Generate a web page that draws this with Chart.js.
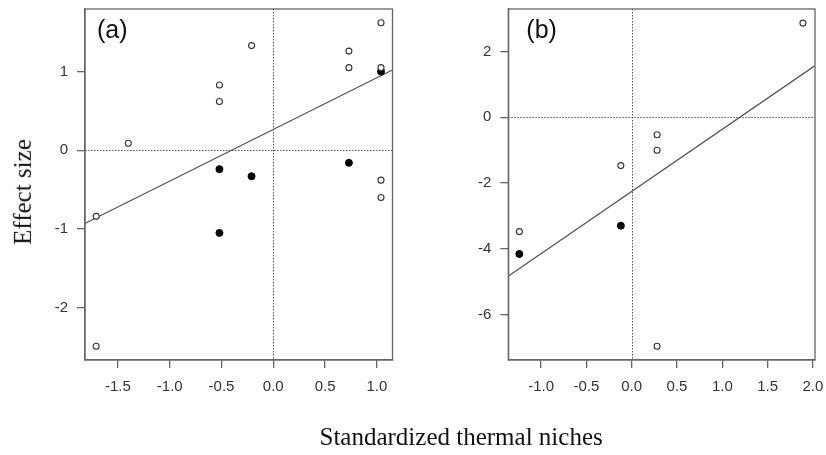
<!DOCTYPE html>
<html>
<head>
<meta charset="utf-8">
<script src="https://cdn.jsdelivr.net/npm/chart.js@4.4.0/dist/chart.umd.min.js"></script>
<style>
    body { margin: 0; background: #ffffff; }
    #wrap { position: relative; width: 826px; height: 455px; overflow: hidden; }
    canvas { position: absolute; top: 0; }
    .axisTitle { position: absolute; font-family: "Liberation Serif", "DejaVu Serif", serif; font-size: 25px; color: #111; white-space: nowrap; }
</style>
</head>
<body>
<div id="wrap">
    <canvas id="chartA" width="400" height="455" style="left:0px"></canvas>
    <canvas id="chartB" width="406" height="455" style="left:420px"></canvas>
    <div class="axisTitle" id="yTitle">Effect size</div>
    <div class="axisTitle" id="xTitle">Standardized thermal niches</div>
</div>
<script>
/*
    Panel (a) values
*/
const aOpenX = [-1.40, -0.52, -0.52, -0.21, 0.73, 0.73, 1.04, 1.04, 1.04, 1.04, -1.71, -1.71];
const aOpenY = [0.09, 0.83, 0.62, 1.33, 1.26, 1.05, 1.62, 1.05, -0.38, -0.60, -0.84, -2.49];
const aFillX = [1.04, -0.52, -0.21, 0.73, -0.52];
const aFillY = [1.00, -0.24, -0.33, -0.16, -1.05];
const aFitX = [-1.82, 1.15];
const aFitY = [-0.93, 1.02];
const aXTicks = [-1.5, -1.0, -0.5, 0.0, 0.5, 1.0];
const aYTicks = [-2, -1, 0, 1];

/*
    Panel (b) values
*/
const bOpenX = [1.89, 0.28, 0.28, -0.12, -1.24, 0.28];
const bOpenY = [2.87, -0.53, -1.00, -1.47, -3.48, -6.97];
const bFillX = [-1.24, -0.12];
const bFillY = [-4.16, -3.30];
const bFitX = [-1.36, 2.02];
const bFitY = [-4.83, 1.57];
const bXTicks = [-1.0, -0.5, 0.0, 0.5, 1.0, 1.5, 2.0];
const bYTicks = [-6, -4, -2, 0, 2];

function toPoints(xs, ys) {
    return xs.map((x, i) => ({ x: x, y: ys[i] }));
}

// box round the plot, dotted zero lines and the panel letter
const framePlugin = {
    id: 'frame',
    beforeDatasetsDraw(chart) {
        const ctx = chart.ctx;
        const area = chart.chartArea;
        const x0 = Math.round(chart.scales.x.getPixelForValue(0)) + 0.5;
        const y0 = Math.round(chart.scales.y.getPixelForValue(0)) + 0.5;
        ctx.save();
        ctx.strokeStyle = '#555';
        ctx.lineWidth = 1;
        ctx.setLineDash([1.5, 1.5]);
        ctx.beginPath();
        ctx.moveTo(x0, area.top);
        ctx.lineTo(x0, area.bottom);
        ctx.moveTo(area.left, y0);
        ctx.lineTo(area.right, y0);
        ctx.stroke();
        ctx.restore();
    },
    afterDraw(chart, args, opts) {
        const ctx = chart.ctx;
        const area = chart.chartArea;
        ctx.save();
        ctx.strokeStyle = '#666';
        ctx.lineWidth = 1.3;
        ctx.strokeRect(area.left, area.top, area.right - area.left, area.bottom - area.top);
        ctx.fillStyle = '#111';
        ctx.font = '25px "Liberation Sans", Arial, sans-serif';
        ctx.textBaseline = 'middle';
        ctx.fillText(opts.label, area.left + opts.dx, 31);
        ctx.restore();
    }
};

function makePanel(canvasId, openPts, fillPts, fitPts, xMin, xMax, yMin, yMax, xTicks, yTicks, yAxisWidth, padRight, label, labelDx) {
    const ctx = document.getElementById(canvasId).getContext('2d');
    return new Chart(ctx, {
        type: 'scatter',
        data: {
            datasets: [
                {
                    data: openPts,
                    pointRadius: 3,
                    pointBackgroundColor: '#ffffff',
                    pointBorderColor: '#333',
                    pointBorderWidth: 1.1
                },
                {
                    data: fillPts,
                    pointRadius: 3.5,
                    pointBackgroundColor: '#000',
                    pointBorderColor: '#000',
                    pointBorderWidth: 1
                },
                {
                    data: fitPts,
                    showLine: true,
                    pointRadius: 0,
                    borderColor: '#555',
                    borderWidth: 1.3,
                    fill: false
                }
            ]
        },
        options: {
            responsive: false,
            animation: false,
            layout: { padding: { top: 9, right: padRight, left: 0, bottom: 0 } },
            plugins: {
                legend: { display: false },
                tooltip: { enabled: false },
                frame: { label: label, dx: labelDx }
            },
            scales: {
                x: {
                    type: 'linear',
                    min: xMin,
                    max: xMax,
                    afterBuildTicks: (scale) => { scale.ticks = xTicks.map(v => ({ value: v })); },
                    afterFit: (scale) => {
                        scale.height = 95;
                        scale.paddingLeft = 0;
                        scale.paddingRight = 0;
                    },
                    ticks: {
                        color: '#333',
                        padding: 10,
                        font: { family: '"Liberation Sans", Arial, sans-serif', size: 15 },
                        callback: (v) => Number(v).toFixed(1),
                        maxRotation: 0,
                        autoSkip: false
                    },
                    grid: { drawOnChartArea: false, drawTicks: true, tickLength: 8, color: '#666', lineWidth: 1.3 },
                    border: { display: true, color: '#666', width: 1.3 }
                },
                y: {
                    type: 'linear',
                    min: yMin,
                    max: yMax,
                    afterBuildTicks: (scale) => { scale.ticks = yTicks.map(v => ({ value: v })); },
                    afterFit: (scale) => {
                        scale.width = yAxisWidth;
                        scale.paddingTop = 0;
                        scale.paddingBottom = 0;
                    },
                    ticks: {
                        color: '#333',
                        padding: 9,
                        font: { family: '"Liberation Sans", Arial, sans-serif', size: 15 },
                        callback: (v) => String(v),
                        autoSkip: false
                    },
                    grid: { drawOnChartArea: false, drawTicks: true, tickLength: 8, color: '#666', lineWidth: 1.3 },
                    border: { display: true, color: '#666', width: 1.3 }
                }
            }
        },
        plugins: [framePlugin]
    });
}

makePanel('chartA', toPoints(aOpenX, aOpenY), toPoints(aFillX, aFillY), toPoints(aFitX, aFitY),
    -1.818, 1.151, -2.665, 1.795, aXTicks, aYTicks, 85, 7.5, '(a)', 12);
makePanel('chartB', toPoints(bOpenX, bOpenY), toPoints(bFillX, bFillY), toPoints(bFitX, bFitY),
    -1.362, 2.023, -7.39, 3.30, bXTicks, bYTicks, 88.3, 11, '(b)', 18);

// axis titles shared by both panels
const yTitle = document.getElementById('yTitle');
yTitle.style.left = (23 - yTitle.offsetWidth / 2) + 'px';
yTitle.style.top = (192 - yTitle.offsetHeight / 2) + 'px';
yTitle.style.transform = 'rotate(-90deg)';
const xTitle = document.getElementById('xTitle');
xTitle.style.left = (461 - xTitle.offsetWidth / 2) + 'px';
xTitle.style.top = (437 - xTitle.offsetHeight / 2) + 'px';
</script>
</body>
</html>
